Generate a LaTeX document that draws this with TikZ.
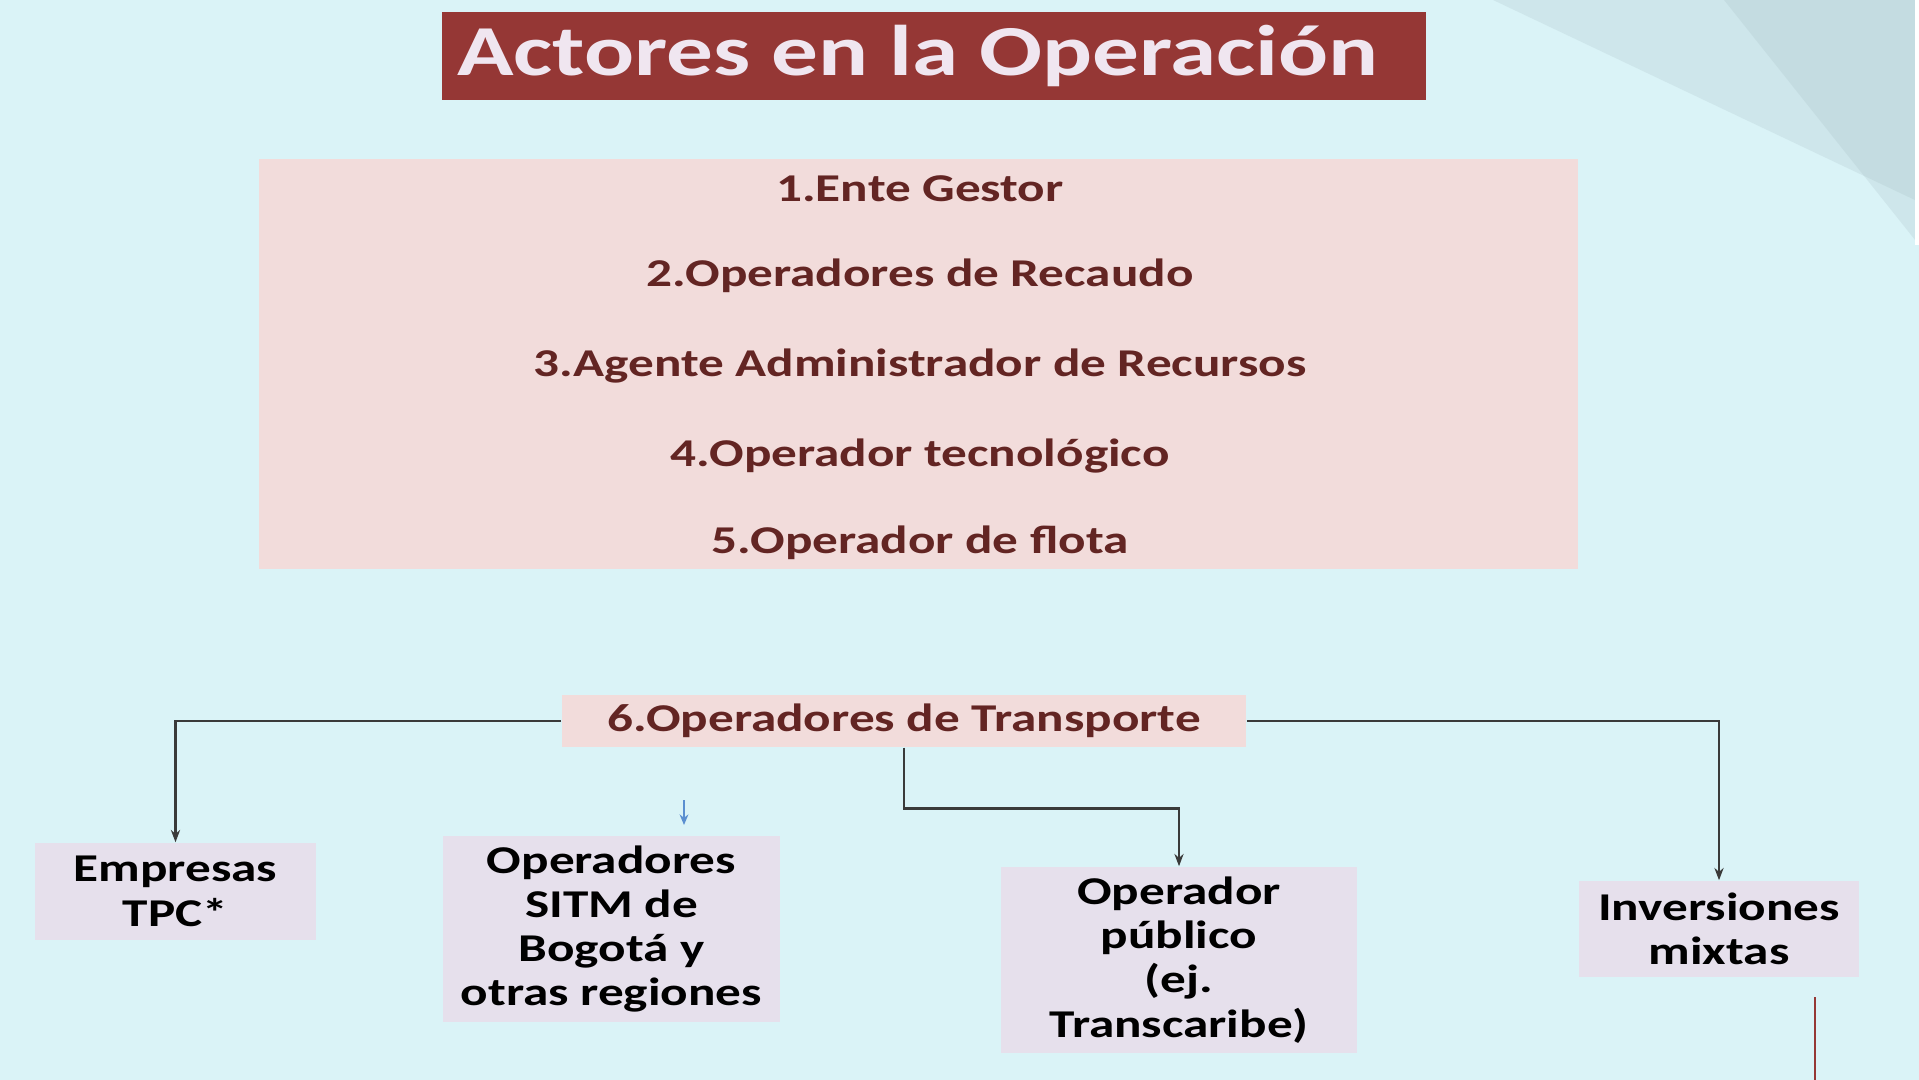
\documentclass[tikz,border=0pt]{standalone}
\usepackage{fontspec}
\setmainfont{Carlito}[FakeStretch=1.3]
\usetikzlibrary{arrows.meta}
\definecolor{fondo}{HTML}{DAF3F7}
\definecolor{rojotitulo}{HTML}{953735}
\definecolor{rosa}{HTML}{F2DCDB}
\definecolor{granate}{HTML}{632523}
\definecolor{lila}{HTML}{E6E0EC}
\definecolor{linea}{HTML}{3A3A3A}
\definecolor{gris}{HTML}{9FB6BC}
\begin{document}
\begin{tikzpicture}[x=0.01cm,y=-0.01cm,
    letra/.style={font=\bfseries\fontsize{11.2}{12.6}\selectfont},
    caja/.style={letra, fill=lila, text=black, align=center, inner sep=0pt},
    flecha/.style={draw=linea, line width=0.7pt, -{Stealth[length=3.5pt,width=2.6pt]}}]

        % fondo y esquina
        \useasboundingbox (0,0) rectangle (1919,1080);
        \fill[fondo] (0,0) rectangle (1919,1080);
        \fill[gris, opacity=0.2] (1493,0) -- (1919,0) -- (1919,202) -- cycle;
        \fill[gris, opacity=0.2] (1724,0) -- (1919,0) -- (1919,245) -- cycle;
        \fill[white] (1915,0) rectangle (1919,245);

        % titulo
        \node[fill=rojotitulo, minimum width=9.84cm, minimum height=0.88cm, inner sep=0pt] (titulo) at (934,56) {};
        \node[text={rgb,255:red,240;green,230;blue,240}, font=\bfseries\fontsize{20.4}{24}\selectfont]
            (titulotexto) at (918,56) {Actores en la Operación};

        % actores 1 a 5
        \node[fill=rosa, minimum width=13.19cm, minimum height=4.10cm, inner sep=0pt] (actores) at (918.5,364) {};
        \foreach \y/\t [count=\i] in {189/1.Ente Gestor, 276/2.Operadores de Recaudo,
            366/3.Agente Administrador de Recursos, 456/4.Operador tecnológico, 543/5.Operador de flota}
            \node[letra, text=granate] (actor\i) at (920,\y) {\t};

        % operadores de transporte
        \node[letra, fill=rosa, text=granate, minimum width=6.84cm, minimum height=0.52cm, inner sep=0pt]
            (transporte) at (904,721) {6.Operadores de Transporte};

        \node[caja, minimum width=2.81cm, minimum height=0.97cm] (empresas) at (175.5,891.5) {Empresas\\TPC*};
        \node[caja, minimum width=3.37cm, minimum height=1.86cm] (sitm) at (611.5,929) {Operadores\\SITM de\\Bogotá y\\otras regiones};
        \node[caja, minimum width=3.56cm, minimum height=1.86cm] (publico) at (1179,960) {Operador\\público\\(ej.\\Transcaribe)};
        \node[caja, minimum width=2.80cm, minimum height=0.96cm] (mixtas) at (1719,929) {Inversiones\\mixtas};

        \draw[flecha] (transporte.west) -| (empresas.north);
        \draw[flecha] (transporte.east) -| (mixtas.north);
        \draw[flecha] (transporte.south) -- ++(0,61) -| (publico.north);

        % flecha azul suelta y linea del borde
        \coordinate (azul1) at (684,800);
        \coordinate (azul2) at (684,825);
        \draw[{Stealth[length=3pt,width=2.5pt]}-, draw={rgb,255:red,91;green,143;blue,208}, line width=0.5pt] (azul2) -- (azul1);
        \coordinate (borde1) at (1815,997);
        \coordinate (borde2) at (1815,1080);
        \draw[rojotitulo, line width=0.4pt] (borde1) -- (borde2);
        \end{tikzpicture}
\end{document}
